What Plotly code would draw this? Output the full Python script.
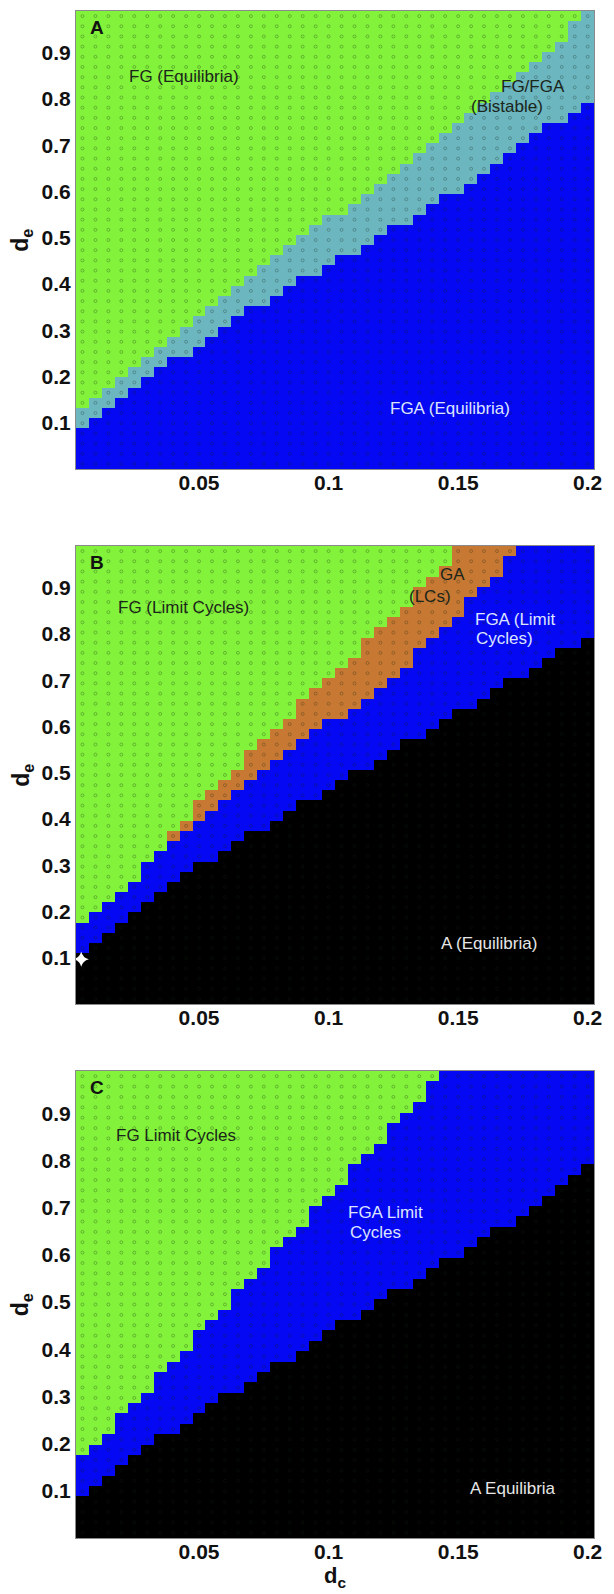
import plotly.graph_objects as go

# parameter grid (cell centres)
dc = [0.005, 0.01, 0.015, 0.02, 0.025, 0.03, 0.035, 0.04, 0.045, 0.05,
      0.055, 0.06, 0.065, 0.07, 0.075, 0.08, 0.085, 0.09, 0.095, 0.1,
      0.105, 0.11, 0.115, 0.12, 0.125, 0.13, 0.135, 0.14, 0.145, 0.15,
      0.155, 0.16, 0.165, 0.17, 0.175, 0.18, 0.185, 0.19, 0.195, 0.2]
de = [0.011, 0.033, 0.055, 0.077, 0.099, 0.121, 0.143, 0.165, 0.187, 0.209,
      0.231, 0.253, 0.275, 0.297, 0.319, 0.341, 0.363, 0.385, 0.407, 0.429,
      0.451, 0.473, 0.495, 0.517, 0.539, 0.561, 0.583, 0.605, 0.627, 0.649,
      0.671, 0.693, 0.715, 0.737, 0.759, 0.781, 0.803, 0.825, 0.847, 0.869,
      0.891, 0.913, 0.935, 0.957, 0.979]

# Panel A: number of grid rows (from bottom) in each region, per d_c column
A_fga_top = [4, 5, 6, 7, 8, 9, 10, 11, 11, 12, 13, 14, 15, 16, 16, 17, 18, 19, 19, 20,
             21, 21, 22, 23, 24, 24, 25, 26, 27, 27, 28, 29, 30, 31, 32, 33, 34, 34, 35, 36]
A_fg_bottom = [6, 7, 8, 9, 10, 11, 12, 13, 14, 15, 16, 17, 18, 19, 20, 21, 22, 23, 24, 25,
               25, 26, 27, 28, 29, 30, 31, 32, 33, 34, 35, 36, 37, 38, 39, 40, 41, 42, 44, 45]

# Panel B
B_a_top = [5, 6, 7, 8, 9, 10, 11, 12, 13, 14, 14, 15, 16, 17, 17, 18, 19, 20, 20, 21,
           22, 23, 23, 24, 25, 26, 26, 27, 28, 29, 29, 30, 31, 32, 32, 33, 34, 35, 35, 36]
B_fga_top = [8, 9, 10, 11, 12, 14, 15, 16, 17, 18, 19, 20, 21, 22, 23, 24, 25, 26, 27, 28,
             28, 29, 30, 31, 32, 33, 35, 36, 37, 38, 40, 41, 42, 44, 45, 45, 45, 45, 45, 45]
B_fg_bottom = [8, 9, 10, 11, 12, 14, 15, 17, 18, 20, 21, 22, 23, 25, 26, 27, 28, 30, 31, 32,
               33, 34, 36, 37, 38, 39, 41, 42, 43, 45, 45, 45, 45, 45, 45, 45, 45, 45, 45, 45]

# Panel C
C_a_top = [4, 5, 6, 7, 8, 9, 10, 10, 11, 12, 13, 14, 14, 15, 16, 17, 17, 18, 19, 20,
           21, 21, 22, 23, 24, 24, 25, 26, 27, 27, 28, 29, 30, 30, 31, 32, 33, 34, 35, 36]
C_fg_bottom = [8, 9, 10, 12, 13, 14, 16, 17, 18, 20, 21, 22, 24, 25, 26, 28, 29, 30, 32, 33,
               34, 36, 37, 38, 40, 41, 42, 44, 45, 45, 45, 45, 45, 45, 45, 45, 45, 45, 45, 45]

x_ticks = [0.05, 0.1, 0.15, 0.2]
x_ticktext = ["0.05", "0.1", "0.15", "0.2"]
y_ticks = [0.1, 0.2, 0.3, 0.4, 0.5, 0.6, 0.7, 0.8, 0.9]
y_ticktext = ["0.1", "0.2", "0.3", "0.4", "0.5", "0.6", "0.7", "0.8", "0.9"]

# class codes: 0 A-equilibria (black), 1 FGA (blue), 2 bistable (teal), 3 FG (green), 4 GA (brown)
BLACK, BLUE, TEAL, GREEN, BROWN = "#000000", "#0508F2", "#6CB6C0", "#82F23A", "#C77832"
cscale = [[0.0, BLACK], [0.125, BLACK], [0.125, BLUE], [0.375, BLUE],
          [0.375, TEAL], [0.625, TEAL], [0.625, GREEN], [0.875, GREEN],
          [0.875, BROWN], [1.0, BROWN]]

nr, nc = len(de), len(dc)
zA = [[1 if i < A_fga_top[j] else (2 if i < A_fg_bottom[j] else 3) for j in range(nc)] for i in range(nr)]
zB = [[0 if i < B_a_top[j] else (1 if i < B_fga_top[j] else (4 if i < B_fg_bottom[j] else 3))
       for j in range(nc)] for i in range(nr)]
zC = [[0 if i < C_a_top[j] else (1 if i < C_fg_bottom[j] else 3) for j in range(nc)] for i in range(nr)]

W, H = 614, 1594
left_px, right_px = 77, 602
panels = [  # (z, top_px, bottom_px)
    (zA, 11, 469),
    (zB, 546, 1004),
    (zC, 1071, 1538),
]

fig = go.Figure()
gx = [x for y in de for x in dc]
gy = [y for y in de for x in dc]

TICKFONT = dict(family="Liberation Sans", size=21, color="#111", weight="bold")

for k, (z, top, bot) in enumerate(panels):
    ax = "" if k == 0 else str(k + 1)
    fig.add_trace(go.Heatmap(x=dc, y=de, z=z, colorscale=cscale, zmin=0, zmax=4,
                             showscale=False, xaxis="x" + ax, yaxis="y" + ax,
                             hoverinfo="skip"))
    fig.add_trace(go.Scatter(x=gx, y=gy, mode="markers", xaxis="x" + ax, yaxis="y" + ax,
                             marker=dict(symbol="circle-open", size=3, color="rgba(20,40,20,0.28)",
                                         line=dict(width=1)),
                             showlegend=False, hoverinfo="skip"))
    xd = [left_px / W, right_px / W]
    yd = [(H - bot) / H, (H - top) / H]
    axis_common = dict(showline=True, mirror=True, linecolor="#8a8a8a", linewidth=1,
                       showgrid=False, zeroline=False, ticks="")
    fig.update_layout(**{
        "xaxis" + ax: dict(domain=xd, range=[0.0025, 0.2025], tickvals=x_ticks, ticktext=x_ticktext,
                           tickfont=TICKFONT, anchor="y" + ax, ticklabeloverflow="allow",
                           ticklabelstandoff=-5, **axis_common),
        "yaxis" + ax: dict(domain=yd, range=[0, 0.99], tickvals=y_ticks, ticktext=y_ticktext,
                           tickfont=TICKFONT, anchor="x" + ax, **axis_common),
    })

# white star in panel B
fig.add_trace(go.Scatter(x=[0.0045], y=[0.097], mode="markers", xaxis="x2", yaxis="y2",
                         marker=dict(symbol="star-diamond", size=11, color="white"),
                         showlegend=False, hoverinfo="skip"))

ann = []
def label(text, x, y, ax, color="#1b261b", size=17, bold=False, xanchor="center"):
    ann.append(dict(text=("<b>%s</b>" % text) if bold else text, x=x, y=y,
                    xref="x" + ax, yref="y" + ax, showarrow=False, xanchor=xanchor,
                    yanchor="middle",
                    font=dict(family="Liberation Sans", size=size, color=color)))

# Panel A
label("A", 0.007, 0.955, "", color="#111", size=19, bold=True, xanchor="left")
label("FG (Equilibria)", 0.044, 0.848, "")
label("FG/FGA", 0.179, 0.826, "")
label("(Bistable)", 0.169, 0.783, "")
label("FGA (Equilibria)", 0.147, 0.130, "", color="#dde4ff")
# Panel B
label("B", 0.007, 0.955, "2", color="#111", size=19, bold=True, xanchor="left")
label("FG (Limit Cycles)", 0.044, 0.856, "2")
label("GA", 0.148, 0.928, "2")
label("(LCs)", 0.139, 0.880, "2")
label("FGA (Limit", 0.172, 0.832, "2", color="#dde4ff")
label("Cycles)", 0.168, 0.790, "2", color="#dde4ff")
label("A (Equilibria)", 0.162, 0.130, "2", color="#e6e6e6")
# Panel C
label("C", 0.007, 0.955, "3", color="#111", size=19, bold=True, xanchor="left")
label("FG Limit Cycles", 0.041, 0.853, "3")
label("FGA Limit", 0.122, 0.690, "3", color="#dde4ff")
label("Cycles", 0.118, 0.648, "3", color="#dde4ff")
label("A Equilibria", 0.171, 0.104, "3", color="#e6e6e6")

# axis titles
for top, bot in [(11, 469), (546, 1004), (1071, 1538)]:
    ann.append(dict(text="<b>d<sub>e</sub></b>", x=22 / W, y=(H - (top + bot) / 2) / H,
                    xref="paper", yref="paper", showarrow=False, textangle=-90,
                    xanchor="center", yanchor="middle",
                    font=dict(family="Liberation Sans", size=23, color="#111")))
ann.append(dict(text="<b>d<sub>c</sub></b>", x=(left_px + right_px) / 2 / W, y=(H - 1577) / H,
                xref="paper", yref="paper", showarrow=False, xanchor="center", yanchor="middle",
                font=dict(family="Liberation Sans", size=22, color="#111")))

fig.update_layout(width=W, height=H, margin=dict(l=0, r=0, t=0, b=0),
                  paper_bgcolor="white", plot_bgcolor="white", showlegend=False,
                  annotations=ann)

fig.write_html("out.html")
